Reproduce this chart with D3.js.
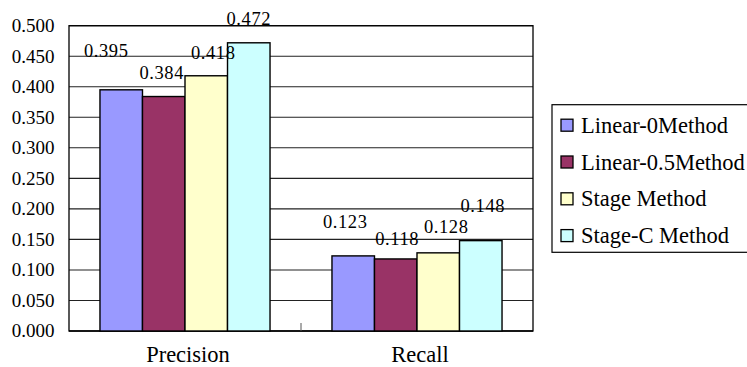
<!DOCTYPE html>
<html>
<head>
<meta charset="utf-8">
<script src="https://cdn.jsdelivr.net/npm/d3@7"></script>
<style>
  html, body { margin: 0; padding: 0; background: #fff; }
  svg { display: block; }
</style>
</head>
<body>
<svg id="chart" width="747" height="367"></svg>
<script>
// Chart data
const categories = ["Precision", "Recall"];
const seriesNames = ["Linear-0Method", "Linear-0.5Method", "Stage Method", "Stage-C Method"];
const linear0 = [0.395, 0.123];
const linear05 = [0.384, 0.118];
const stage = [0.418, 0.128];
const stageC = [0.472, 0.148];
const yTicks = [0, 0.05, 0.1, 0.15, 0.2, 0.25, 0.3, 0.35, 0.4, 0.45, 0.5];

// Layout and style
const FONT = '"Liberation Serif"';
const colors = ["#9999FF", "#993366", "#FFFFCC", "#CCFFFF"];
const plot = { left: 69, right: 533, top: 25.7, bottom: 331 };
// Hand-placed value label nudges [dx, dy] from each bar's top centre, per category then series
const labelNudge = [
  [[-15, -33], [-2, -18], [7, -16.5], [0, -17.5]],
  [[-8, -27.5], [1.5, -14], [8, -19.5], [2, -29]]
];

const seriesValues = [linear0, linear05, stage, stageC];
const rows = categories.map((c, ci) => ({
  category: c,
  values: seriesNames.map((s, si) => ({ series: s, si, ci, value: seriesValues[si][ci] }))
}));

const svg = d3.select("#chart");

const x0 = d3.scaleBand()
  .domain(categories)
  .range([plot.left, plot.right])
  .paddingInner(0.267)
  .paddingOuter(0.1335);
const x1 = d3.scaleBand()
  .domain(seriesNames)
  .range([0, x0.bandwidth()]);
const y = d3.scaleLinear().domain([0, 0.5]).range([plot.bottom, plot.top]);

// Horizontal gridlines
svg.append("g")
  .selectAll("line")
  .data(yTicks.filter(t => t > 0))
  .join("line")
  .attr("x1", plot.left).attr("x2", plot.right)
  .attr("y1", d => y(d)).attr("y2", d => y(d))
  .attr("stroke", "#222").attr("stroke-width", 1.1);

// Plot frame
svg.append("rect")
  .attr("x", plot.left).attr("y", plot.top)
  .attr("width", plot.right - plot.left).attr("height", plot.bottom - plot.top)
  .attr("fill", "none").attr("stroke", "#000").attr("stroke-width", 1.3);

// Y axis labels, drawn from the scale's tick values
svg.append("g")
  .selectAll("text")
  .data(yTicks)
  .join("text")
  .attr("x", plot.left - 14.5)
  .attr("y", d => y(d))
  .attr("dy", "0.34em")
  .attr("text-anchor", "end")
  .style("font-family", FONT)
  .style("font-size", "19px")
  .text(d => d3.format(".3f")(d));

// Category axis line, labels and boundary tick
svg.append("line")
  .attr("x1", plot.left).attr("x2", plot.right)
  .attr("y1", plot.bottom).attr("y2", plot.bottom)
  .attr("stroke", "#000").attr("stroke-width", 1.3);
svg.append("g")
  .selectAll("text")
  .data(categories)
  .join("text")
  .attr("x", d => x0(d) + x0.bandwidth() / 2 + 3)
  .attr("y", plot.bottom + 31)
  .attr("text-anchor", "middle")
  .style("font-family", FONT)
  .style("font-size", "22.5px")
  .text(d => d);
svg.append("g")
  .selectAll("line")
  .data(categories.slice(1))
  .join("line")
  .attr("x1", d => x0(d) - x0.step() * x0.paddingInner() / 2)
  .attr("x2", d => x0(d) - x0.step() * x0.paddingInner() / 2)
  .attr("y1", plot.bottom).attr("y2", plot.bottom - 8)
  .attr("stroke", "#555").attr("stroke-width", 1);

// Bars
const groups = svg.append("g")
  .selectAll("g")
  .data(rows)
  .join("g")
  .attr("transform", d => `translate(${x0(d.category)},0)`);

groups.selectAll("rect")
  .data(d => d.values)
  .join("rect")
  .attr("x", d => x1(d.series))
  .attr("y", d => y(d.value))
  .attr("width", x1.bandwidth())
  .attr("height", d => y(0) - y(d.value))
  .attr("fill", d => colors[d.si])
  .attr("stroke", "#000")
  .attr("stroke-width", 1.4);

// Value labels
groups.selectAll("text.val")
  .data(d => d.values)
  .join("text")
  .attr("class", "val")
  .attr("x", d => x1(d.series) + x1.bandwidth() / 2 + labelNudge[d.ci][d.si][0])
  .attr("y", d => y(d.value) + labelNudge[d.ci][d.si][1])
  .attr("text-anchor", "middle")
  .style("font-family", FONT)
  .style("font-size", "18.5px")
  .style("letter-spacing", "0.6px")
  .text(d => d3.format(".3f")(d.value));

// Legend
const legend = svg.append("g").attr("transform", "translate(552,104.7)");
legend.append("rect")
  .attr("x", 0).attr("y", 0)
  .attr("width", 210).attr("height", 147.6)
  .attr("fill", "#fff").attr("stroke", "#000").attr("stroke-width", 1.2);
const items = legend.selectAll("g.item")
  .data(seriesNames)
  .join("g")
  .attr("class", "item")
  .attr("transform", (d, i) => `translate(0,${20.5 + i * 36.8})`);
items.append("rect")
  .attr("x", 9).attr("y", -6)
  .attr("width", 12).attr("height", 12)
  .attr("fill", (d, i) => colors[i])
  .attr("stroke", "#000").attr("stroke-width", 1.3);
items.append("text")
  .attr("x", 29).attr("y", 7.5)
  .style("font-family", FONT)
  .style("font-size", "22.5px")
  .text(d => d);
</script>
</body>
</html>
